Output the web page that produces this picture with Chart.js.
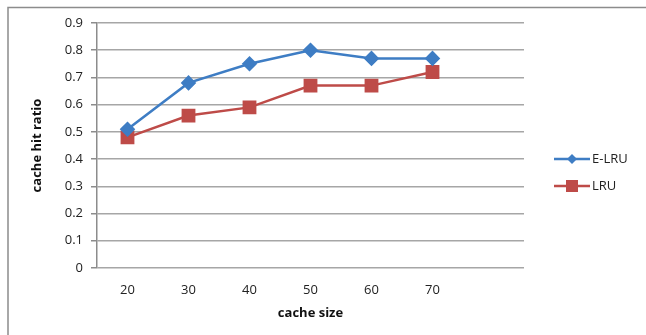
<!DOCTYPE html>
<html>
<head>
<script src="https://cdn.jsdelivr.net/npm/chart.js@4/dist/chart.umd.min.js"></script>
<style>
body{margin:0;background:#fff;}
#wrap{position:relative;width:646px;height:335px;}
</style>
</head>
<body>
<div id="wrap"><canvas id="myChart" width="646" height="335"></canvas></div>
<script>
var xLabels = ["20", "30", "40", "50", "60", "70", ""];
var eLru = [0.51, 0.68, 0.75, 0.80, 0.77, 0.77, null];
var lru = [0.48, 0.56, 0.59, 0.67, 0.67, 0.72, null];
var seriesNames = ["E-LRU", "LRU"];

var blue = "#3E7DC4";
var red = "#BE4B48";
var fontFam = "'Open Sans', sans-serif";

// frame and legend drawn by hand, Excel style
var extras = {
  id: "extras",
  afterDraw: function(chart){
    var c = chart.ctx;
    c.save();
    c.strokeStyle = "#8c8c8c";
    c.lineWidth = 1.5;
    c.beginPath();
    c.moveTo(8, 335);
    c.lineTo(8, 7.5);
    c.lineTo(646, 7.5);
    c.stroke();

    var items = [
      {y: 159, color: blue, shape: "diamond", text: seriesNames[0]},
      {y: 186, color: red, shape: "square", text: seriesNames[1]}
    ];
    items.forEach(function(it){
      c.strokeStyle = it.color;
      c.fillStyle = it.color;
      c.lineWidth = 2.5;
      c.beginPath();
      c.moveTo(554, it.y);
      c.lineTo(590, it.y);
      c.stroke();
      c.beginPath();
      if(it.shape == "diamond"){
        c.moveTo(572, it.y - 5);
        c.lineTo(577, it.y);
        c.lineTo(572, it.y + 5);
        c.lineTo(567, it.y);
      } else {
        c.rect(566, it.y - 6, 12, 12);
      }
      c.closePath();
      c.fill();
      c.fillStyle = "#222";
      c.font = "13px " + fontFam;
      c.textBaseline = "middle";
      c.fillText(it.text, 592, it.y);
    });
    c.restore();
  }
};

new Chart("myChart", {
  type: "line",
  data: {
    labels: xLabels,
    datasets: [{
      label: seriesNames[0],
      data: eLru,
      borderColor: blue,
      backgroundColor: blue,
      borderWidth: 2.5,
      pointStyle: "rectRot",
      pointRadius: 6,
      pointHoverRadius: 6,
      tension: 0
    }, {
      label: seriesNames[1],
      data: lru,
      borderColor: red,
      backgroundColor: red,
      borderWidth: 2.5,
      pointStyle: "rect",
      pointRadius: 8,
      pointHoverRadius: 8,
      tension: 0
    }]
  },
  options: {
    responsive: false,
    animation: false,
    layout: {padding: {left: 0, right: 122, top: 23, bottom: 0}},
    plugins: {
      legend: {display: false},
      tooltip: {enabled: false}
    },
    scales: {
      x: {
        offset: true,
        grid: {display: false, drawTicks: false},
        border: {display: false},
        ticks: {color: "#222", font: {family: fontFam, size: 13}, padding: 14, maxRotation: 0, autoSkip: false},
        title: {display: true, text: "cache size", color: "#111", font: {family: fontFam, size: 13, weight: "bold"}, padding: {top: 4, bottom: 14}},
        afterFit: function(s){ s.height = 67; }
      },
      y: {
        min: 0,
        max: 0.9,
        ticks: {stepSize: 0.1, color: "#222", font: {family: fontFam, size: 13}, padding: 8,
          callback: function(v){ return Math.round(v * 10) / 10; }},
        grid: {color: "#a6a6a6", lineWidth: 1.5, tickLength: 6, tickColor: "#8c8c8c"},
        border: {display: true, color: "#8c8c8c", width: 1.5},
        title: {display: true, text: "cache hit ratio", color: "#111", font: {family: fontFam, size: 13, weight: "bold"}, padding: {top: 29, bottom: 4}},
        afterFit: function(s){ s.width = 97; }
      }
    }
  },
  plugins: [extras]
});
</script>
</body>
</html>
